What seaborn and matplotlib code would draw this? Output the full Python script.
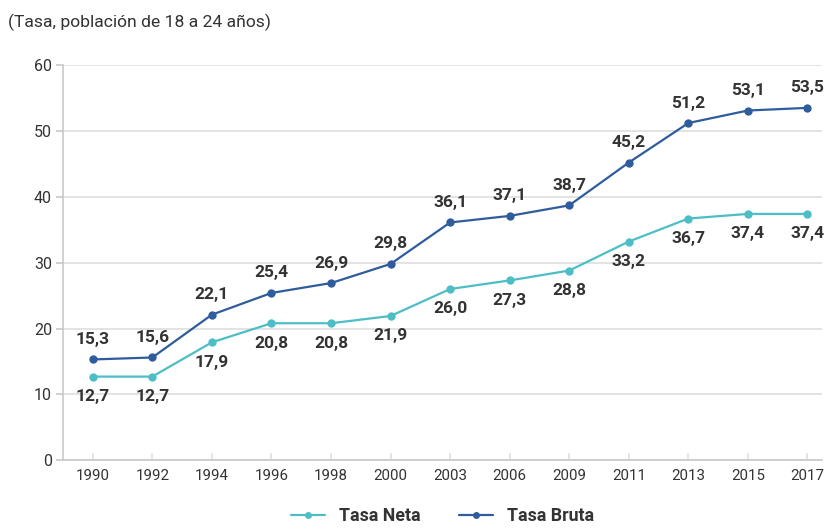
import matplotlib
matplotlib.use("Agg")
import matplotlib.pyplot as plt
import seaborn as sns
import pandas as pd

years = ["1990", "1992", "1994", "1996", "1998", "2000", "2003", "2006",
         "2009", "2011", "2013", "2015", "2017"]
tasa_neta = [12.7, 12.7, 17.9, 20.8, 20.8, 21.9, 26.0, 27.3, 28.8, 33.2, 36.7, 37.4, 37.4]
tasa_bruta = [15.3, 15.6, 22.1, 25.4, 26.9, 29.8, 36.1, 37.1, 38.7, 45.2, 51.2, 53.1, 53.5]
series_names = ["Tasa Neta", "Tasa Bruta"]
y_ticks = [0, 10, 20, 30, 40, 50, 60]

c_neta = "#4dbdc6"
c_bruta = "#2f5c9c"
text_c = "#333333"

sns.set_theme(style="white")
plt.rcParams["font.family"] = ["Roboto", "DejaVu Sans"]

df = pd.DataFrame({
    "year": years * 2,
    "x": list(range(len(years))) * 2,
    "value": tasa_neta + tasa_bruta,
    "serie": [series_names[0]] * len(years) + [series_names[1]] * len(years),
})

fig = plt.figure(figsize=(8.29, 5.29), dpi=100)
ax = fig.add_axes([0.076, 0.130, 0.916, 0.747])

sns.lineplot(data=df, x="x", y="value", hue="serie",
             palette={series_names[0]: c_neta, series_names[1]: c_bruta},
             marker="o", markersize=6, markeredgewidth=0, linewidth=1.6,
             ax=ax, legend=True)

ax.set_xlim(-0.5, 12.25)
ax.set_ylim(0, 60)
ax.set_yticks(y_ticks)
ax.set_xticks(range(len(years)))
ax.set_xticklabels(years)
ax.set_xlabel("")
ax.set_ylabel("")
ax.grid(axis="y", color="#dedede", linewidth=1.2)
ax.set_axisbelow(True)
for s in ["top", "right"]:
    ax.spines[s].set_visible(False)
for s in ["left", "bottom"]:
    ax.spines[s].set_color("#c8c8c8")
    ax.spines[s].set_linewidth(1.2)
ax.tick_params(axis="y", length=5, color="#c8c8c8", width=1.2, labelsize=11.5,
               labelcolor=text_c, pad=3, left=True)
ax.tick_params(axis="x", length=5, direction="in", color="#e0e0e0", width=1.2,
               labelsize=10.8, labelcolor=text_c, pad=6, bottom=True)

for i, v in enumerate(tasa_bruta):
    ax.annotate(f"{v:.1f}".replace(".", ","), (i, v), xytext=(0, 9),
                textcoords="offset points", ha="center", va="bottom",
                fontsize=12.5, fontweight="bold", color=text_c)
for i, v in enumerate(tasa_neta):
    ax.annotate(f"{v:.1f}".replace(".", ","), (i, v), xytext=(0, -9),
                textcoords="offset points", ha="center", va="top",
                fontsize=12.5, fontweight="bold", color=text_c)

handles, labels = ax.get_legend_handles_labels()
for h in handles:
    h.set_markersize(5)
ax.legend(handles, labels, loc="lower center", bbox_to_anchor=(0.5, -0.205),
          ncol=2, frameon=False, handlelength=1.9, columnspacing=2.2,
          prop={"weight": "bold", "size": 12.8}, labelcolor=text_c)

fig.text(0.010, 0.958, "(Tasa, población de 18 a 24 años)", fontsize=12.6,
         color=text_c, ha="left", va="center")

fig.savefig("out.png", dpi=100)
